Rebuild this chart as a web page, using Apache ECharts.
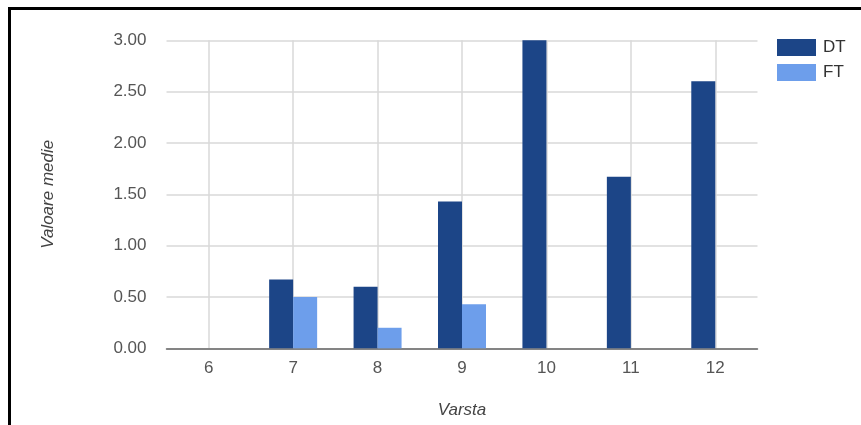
<!DOCTYPE html>
<html>
<head>
<meta charset="utf-8">
<title>Valoare medie pe varsta</title>
<script src="https://cdn.jsdelivr.net/npm/echarts@6/dist/echarts.min.js"></script>
<style>
  html, body { margin: 0; padding: 0; background: #fff; }
  #chart { width: 861px; height: 425px; }
</style>
</head>
<body>
<div id="chart"></div>
<script>
// Age groups and mean values per group
const categories = ['6', '7', '8', '9', '10', '11', '12'];
const dtValues = [0, 0.67, 0.6, 1.43, 3.0, 1.67, 2.6];
const ftValues = [0, 0.5, 0.2, 0.43, 0, 0, 0];
const yTicks = { min: 0, max: 3, step: 0.5 };

const FONT = '"Liberation Sans", Arial, sans-serif';

const chart = echarts.init(document.getElementById('chart'), null, { renderer: 'canvas' });

chart.setOption({
  animation: false,
  backgroundColor: '#ffffff',
  graphic: [
    {
      type: 'rect',
      silent: true,
      shape: { x: 9.5, y: 8.5, width: 1000, height: 1000 },
      style: { fill: 'none', stroke: '#000', lineWidth: 3 }
    }
  ],
  grid: {
    left: 166.5, right: 103.5, top: 40.3, bottom: 76.7,
    outerBoundsMode: 'none',
    containLabel: false
  },
  legend: {
    orient: 'vertical',
    left: 777,
    top: 39,
    padding: 0,
    itemWidth: 39,
    itemHeight: 17,
    itemGap: 8,
    icon: 'rect',
    textStyle: { fontFamily: FONT, fontSize: 17, color: '#333', padding: [0, 0, 0, 2] },
    data: ['DT', 'FT']
  },
  xAxis: {
    type: 'category',
    data: categories,
    name: 'Varsta',
    nameLocation: 'middle',
    nameGap: 53,
    nameTextStyle: { fontFamily: FONT, fontSize: 17, fontStyle: 'italic', color: '#444' },
    axisLine: { show: true, lineStyle: { color: '#666', width: 1.5 } },
    axisTick: { show: false },
    axisLabel: { fontFamily: FONT, fontSize: 17, color: '#555', margin: 12 },
    splitLine: { show: true, alignWithLabel: true, lineStyle: { color: '#d9d9d9', width: 1.5 } }
  },
  yAxis: {
    type: 'value',
    min: yTicks.min,
    max: yTicks.max,
    interval: yTicks.step,
    name: 'Valoare medie',
    nameLocation: 'middle',
    nameGap: 110,
    nameRotate: 90,
    nameTextStyle: { fontFamily: FONT, fontSize: 17, fontStyle: 'italic', color: '#444' },
    axisLine: { show: false },
    axisTick: { show: false },
    axisLabel: {
      fontFamily: FONT, fontSize: 17, color: '#555', margin: 20,
      formatter: v => v.toFixed(2)
    },
    splitLine: { show: true, lineStyle: { color: '#d9d9d9', width: 1.5 } }
  },
  series: [
    {
      name: 'DT',
      type: 'bar',
      data: dtValues,
      barWidth: 24,
      barGap: '0%',
      itemStyle: { color: '#1c4587' }
    },
    {
      name: 'FT',
      type: 'bar',
      data: ftValues,
      barWidth: 24,
      itemStyle: { color: '#6d9eeb' }
    }
  ]
});
</script>
</body>
</html>
